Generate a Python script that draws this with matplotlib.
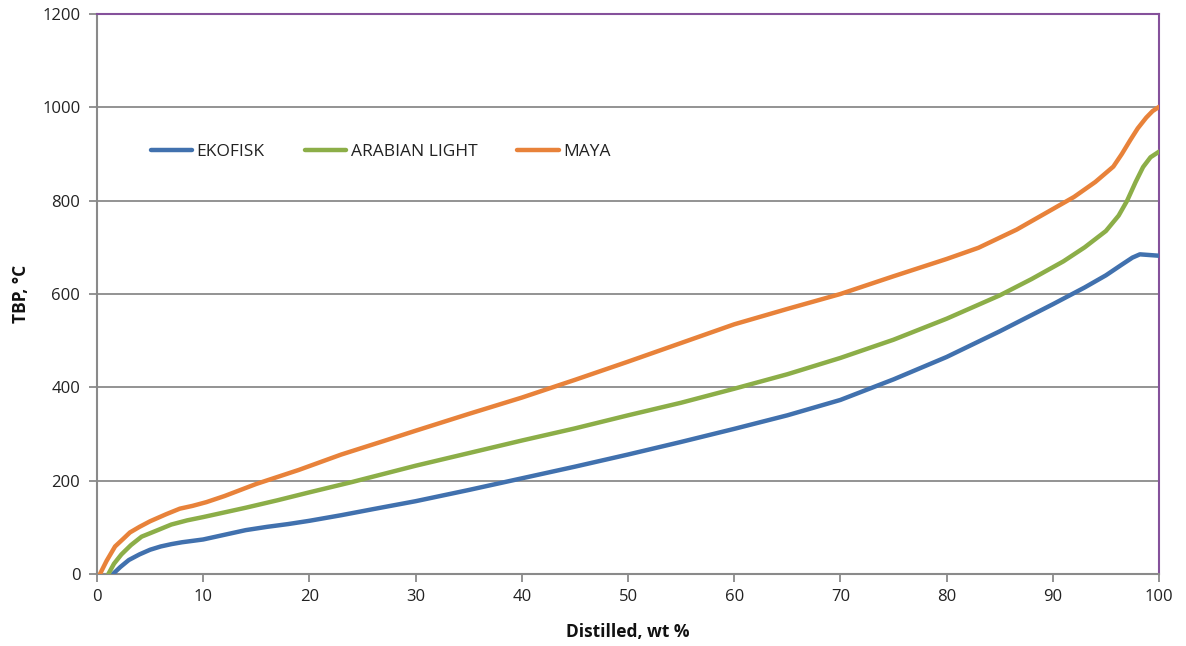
import matplotlib
matplotlib.use("Agg")
import matplotlib.pyplot as plt

# Distillation (TBP) curves: cumulative wt % distilled vs. true boiling point, °C
ekofisk_x = [1.5, 2.2, 3.0, 4, 5, 6, 7, 8, 9, 10, 12, 14, 16, 18, 20, 23, 26, 30,
             35, 40, 45, 50, 55, 60, 65, 70, 75, 80, 85, 90, 93, 95, 96.5, 97.5,
             98.2, 98.8, 100]
ekofisk_y = [0, 15, 30, 42, 52, 59, 64, 68, 71, 74, 84, 94, 101, 107, 114, 126, 139,
             156, 180, 205, 230, 256, 283, 311, 340, 373, 417, 465, 520, 578, 614,
             640, 663, 678, 685, 684, 682]

arabian_x = [1.07, 1.6, 2.3, 3.2, 4.2, 5.5, 7, 8.5, 10, 12, 14, 17, 20, 24, 30, 35,
             40, 45, 50, 55, 60, 65, 70, 75, 80, 85, 88, 91, 93, 95, 96.2, 97,
             97.8, 98.5, 99.2, 100]
arabian_y = [0, 22, 42, 62, 80, 92, 106, 115, 122, 132, 142, 158, 175, 197, 232, 259,
             286, 312, 340, 367, 397, 428, 463, 502, 547, 597, 632, 670, 700, 735,
             768, 800, 840, 872, 893, 905]

maya_x = [0.28, 0.9, 1.7, 2.5, 3.1, 4, 5, 6.5, 7.8, 9, 10.3, 12, 15, 19, 23, 27, 30,
          35, 40, 45, 50, 55, 60, 65, 70, 75, 80, 83, 86.6, 90, 92, 94, 95.7,
          96.5, 97.3, 98, 98.8, 99.4, 100]
maya_y = [0, 28, 59, 76, 89, 101, 113, 128, 140, 146, 154, 167, 193, 223, 256, 285,
          307, 343, 378, 416, 455, 495, 535, 568, 600, 638, 675, 699, 738, 782, 808,
          840, 873, 900, 930, 955, 978, 992, 1001]

series_names = ["EKOFISK", "ARABIAN LIGHT", "MAYA"]
series_colors = ["#4171AE", "#8CAE48", "#E8823A"]

x_ticks = list(range(0, 101, 10))
y_ticks = list(range(0, 1201, 200))

font = "Open Sans"
grid_gray = "#8a8a8a"
frame_purple = "#85519B"

fig = plt.figure(figsize=(11.86, 6.46), dpi=100)
ax = fig.add_axes([97 / 1186, 72 / 646, (1159 - 97) / 1186, (574 - 14) / 646])

for xs, ys, name, color in zip([ekofisk_x, arabian_x, maya_x],
                               [ekofisk_y, arabian_y, maya_y],
                               series_names, series_colors):
    ax.plot(xs, ys, color=color, lw=3.2, label=name,
            solid_joinstyle="round", solid_capstyle="round", zorder=3)

ax.set_xlim(0, 100)
ax.set_ylim(0, 1200)
ax.set_xticks(x_ticks)
ax.set_yticks(y_ticks)
ax.set_xticklabels([str(v) for v in x_ticks], fontfamily=font, fontsize=12, color="#222222")
ax.set_yticklabels([str(v) for v in y_ticks], fontfamily=font, fontsize=12, color="#222222")
ax.tick_params(axis="both", direction="out", length=6, width=1.3, color=grid_gray)
ax.tick_params(axis="x", pad=5)
ax.tick_params(axis="y", pad=6)

ax.grid(axis="y", color=grid_gray, lw=1.3, zorder=1)
ax.set_axisbelow(True)

for side in ("left", "bottom"):
    ax.spines[side].set_color(grid_gray)
    ax.spines[side].set_linewidth(1.5)
for side in ("top", "right"):
    ax.spines[side].set_color(frame_purple)
    ax.spines[side].set_linewidth(1.5)

ax.set_xlabel("Distilled, wt %", fontfamily=font, fontsize=12.5, fontweight="bold",
              labelpad=13, color="#111111")
ax.set_ylabel("TBP, °C", fontfamily=font, fontsize=12.5, fontweight="bold",
              labelpad=9, color="#111111")

leg = ax.legend(loc="center left", bbox_to_anchor=(142 / 1186, 1 - 152 / 646),
                bbox_transform=fig.transFigure, ncol=3, frameon=False, borderpad=0,
                handlelength=2.4, handletextpad=0.25, columnspacing=2.3,
                prop={"family": font, "size": 12.5})
for t in leg.get_texts():
    t.set_color("#222222")

fig.savefig("out.png", dpi=100)
